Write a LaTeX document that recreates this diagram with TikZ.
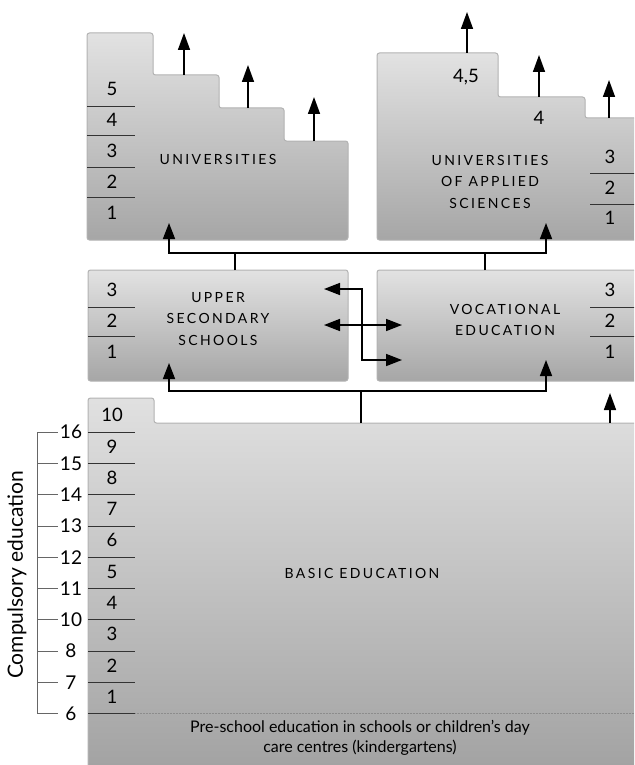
\documentclass[tikz,border=0pt]{standalone}
\usepackage{fontspec}
\setmainfont{Lato}
\usetikzlibrary{arrows.meta, positioning}
\definecolor{boxtop}{RGB}{226,226,226}
\definecolor{boxbottom}{RGB}{166,166,166}
\definecolor{boxedge}{RGB}{178,178,178}

\tikzset{
  stage/.style={top color=boxtop, bottom color=boxbottom, draw=boxedge, line width=1pt, rounded corners=2.5pt},
  yearline/.style={line width=0.8pt, black!80},
  yearnum/.style={font=\fontsize{18.5}{18}\selectfont},
  agenum/.style={font=\fontsize{19}{18}\selectfont, fill=white, inner sep=1pt},
  caps/.style={font=\fontsize{14}{21.5}\selectfont\addfontfeature{LetterSpace=17}, align=center},
  link/.style={line width=1.6pt},
  flow/.style={line width=1.6pt, -{Triangle[length=17pt,width=12pt]}},
  twoway/.style={line width=1.6pt, {Triangle[length=16pt,width=12pt]}-{Triangle[length=16pt,width=12pt]}}
}

\begin{document}
\begin{tikzpicture}[x=1pt, y=-1pt]
    \useasboundingbox (0,0) rectangle (634,765);
    \clip (0,0) rectangle (634,765);

    % Stepped blocks
    \shade[stage] (87,240) -- (87,33) -- (153,33) -- (153,75) -- (219,75) -- (219,108)
        -- (284,108) -- (284,141) -- (348,141) -- (348,240) -- cycle;
    \shade[stage] (377,240) -- (377,53) -- (498,53) -- (498,97) -- (585,97) -- (585,118)
        -- (645,118) -- (645,240) -- cycle;
    \shade[stage] (88,270) rectangle (348,381);
    \shade[stage] (377,270) rectangle (645,381);
    \shade[stage, top color=black!12, bottom color=black!37] (88,780) -- (88,398) -- (154,398)
        -- (154,423) -- (645,423) -- (645,780) -- cycle;

    % Block titles
    \node[caps] (uni) at (218,159) {UNIVERSITIES};
    \node[caps] (uas) at (490,181.5) {UNIVERSITIES\\OF APPLIED\\SCIENCES};
    \node[caps] (upper) at (218,319) {UPPER\\SECONDARY\\SCHOOLS};
    \node[caps] (voc) at (505,320) {VOCATIONAL\\EDUCATION};
    \node[caps] (basic) at (362,573) {BASIC EDUCATION};
    \node[font=\fontsize{16}{20}\selectfont, align=center] (pre) at (360,738)
        {Pre-school education in schools or children’s day\\care centres (kindergartens)};

    % Years, universities
    \foreach \y in {106,135,167,197} \draw[yearline] (87,\y) -- (135,\y);
    \node[yearnum] (u5) at (112,89) {5};
    \node[yearnum] (u4) at (112,120) {4};
    \node[yearnum] (u3) at (112,151) {3};
    \node[yearnum] (u2) at (112,182) {2};
    \node[yearnum] (u1) at (112,213) {1};

    % Years, universities of applied sciences
    \foreach \y in {173,204} \draw[yearline] (590,\y) -- (640,\y);
    \node[yearnum] (a45) at (466,77) {4,5};
    \node[yearnum] (a4) at (539,118) {4};
    \node[yearnum] (a3) at (610,157) {3};
    \node[yearnum] (a2) at (610,188) {2};
    \node[yearnum] (a1) at (610,218) {1};

    % Years, upper secondary and vocational
    \foreach \y in {307,336} {
        \draw[yearline] (88,\y) -- (135,\y);
        \draw[yearline] (590,\y) -- (640,\y);
    }
    \node[yearnum] (s3) at (112,290) {3};
    \node[yearnum] (s2) at (112,321) {2};
    \node[yearnum] (s1) at (112,352) {1};
    \node[yearnum] (v3) at (610,290) {3};
    \node[yearnum] (v2) at (610,321) {2};
    \node[yearnum] (v1) at (610,352) {1};

    % Years and ages, basic education
    \draw[line width=0.8pt, black!60] (37,432) -- (37,714);
    \foreach \age [count=\i from 0] in {16,15,14,13,12,11,10,8,7,6} {
        \pgfmathsetmacro{\yy}{432+31.3*\i}
        \draw[line width=0.8pt, black!60] (37,\yy) -- (58,\yy);
        \draw[yearline] (88,\yy) -- (135,\yy);
        \node[agenum] (age\age) at (71,\yy) {\age};
    }
    \foreach \n [count=\i from 0] in {10,9,8,7,6,5,4,3,2,1}
        \node[yearnum] (b\n) at (112,415+31.3*\i) {\n};
    \draw[densely dotted, line width=0.5pt, black!45] (135,713.7) -- (640,713.7);
    \node[font=\fontsize{21}{21}\selectfont, rotate=90] (comp) at (17,575) {Compulsory education};

    % Feeds between levels
    \coordinate (uniIn) at (169,223);
    \coordinate (uasIn) at (546,223);
    \coordinate (upperIn) at (169,363);
    \coordinate (vocIn) at (546,360);
    \coordinate (upperTop) at (235,270);
    \coordinate (vocTop) at (485,270);
    \coordinate (basicTop) at (361,423);
    \draw[twoway] (uniIn) -- (169,253) -- (546,253) -- (uasIn);
    \draw[link] (upperTop) -- (235,253);
    \draw[link] (vocTop) -- (485,253);
    \draw[twoway] (upperIn) -- (169,391) -- (546,391) -- (vocIn);
    \draw[link] (basicTop) -- (361,391);

    % Crossing between upper secondary and vocational
    \draw[twoway] (324,325) -- (402,325);
    \draw[twoway] (324,289) -- (362,289) -- (362,360) -- (402,360);

    % Onward
    \draw[flow] (184,75) -- (184,33);
    \draw[flow] (248,108) -- (248,65);
    \draw[flow] (314,141) -- (314,97);
    \draw[flow] (467,53) -- (467,12);
    \draw[flow] (539,97) -- (539,55);
    \draw[flow] (609,118) -- (609,80);
    \draw[flow] (610,423) -- (610,393);
\end{tikzpicture}
\end{document}
